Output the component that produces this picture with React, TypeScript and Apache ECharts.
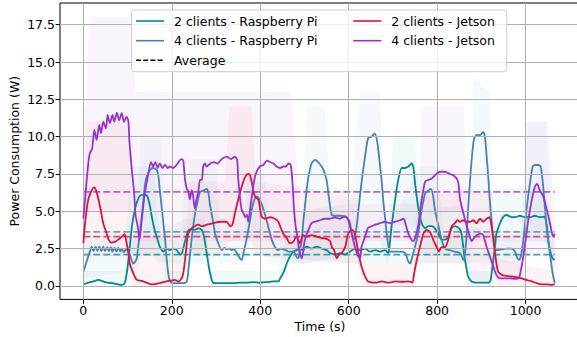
import React, { useEffect, useRef } from "react";
import * as echarts from "echarts";

// ---------- axes ----------
const xTicks = [0, 200, 400, 600, 800, 1000];
const yTicks = [0, 2.5, 5, 7.5, 10, 12.5, 15, 17.5];

// ---------- series meta ----------
const seriesNames = [
  "2 clients - Raspberry Pi",
  "4 clients - Raspberry Pi",
  "2 clients - Jetson",
  "4 clients - Jetson",
];
const seriesColors = ["#008b8b", "#4682b4", "#dc143c", "#9932cc"];
const averages = [2.1, 3.62, 3.3, 6.3];
const avgSpan = [0, 1066];

// ---------- smoothed power (time s, watts) ----------
const rpi2Smooth = [
  [0, 0.1], [11, 0.22], [23, 0.3], [34, 0.4], [45, 0.3], [55, 0.22], [65, 0.18], [75, 0.13], [87, 0.07], [94, 0.2],
  [99, 1.0], [103, 2.0], [107, 3.2], [111, 4.2], [115, 4.9], [120, 5.5], [126, 5.95], [132, 6.1], [140, 6.1], [145, 6.0],
  [151, 5.3], [155, 4.6], [160, 3.9], [166, 3.3], [173, 2.63], [181, 2.3], [188, 2.5], [196, 2.4], [203, 2.5], [211, 2.4],
  [219, 2.1], [223, 2.2], [230, 3.0], [237, 3.7], [245, 3.8], [252, 3.75], [260, 3.86], [268, 3.75], [273, 3.3], [279, 2.2],
  [286, 0.95], [294, 0.2], [309, 0.18], [324, 0.18], [339, 0.18], [354, 0.22], [369, 0.22], [384, 0.25], [400, 0.22], [415, 0.25],
  [430, 0.3], [441, 0.3], [445, 0.5], [452, 0.85], [460, 1.5], [467, 1.96], [475, 2.3], [482, 2.4], [490, 2.5], [497, 2.4],
  [505, 2.63], [516, 2.5], [528, 2.63], [539, 2.5], [550, 2.4], [558, 2.2], [569, 2.1], [580, 2.2], [592, 2.1], [603, 2.3],
  [614, 2.5], [626, 2.4], [637, 2.5], [648, 2.3], [660, 2.4], [671, 2.3], [682, 2.4], [690, 2.2], [693, 2.86], [697, 4.0],
  [705, 5.76], [712, 7.1], [720, 7.9], [727, 7.9], [735, 8.0], [742, 8.2], [746, 8.0], [750, 6.9], [757, 5.3], [765, 4.2],
  [773, 3.86], [780, 4.0], [788, 4.0], [795, 3.86], [803, 3.5], [810, 3.1], [818, 3.1], [825, 3.3], [833, 3.86], [840, 4.0],
  [848, 3.9], [852, 3.75], [855, 3.5], [859, 2.63], [863, 1.74], [867, 1.07], [870, 0.63], [878, 0.3], [889, 0.22], [900, 0.22],
  [916, 0.22], [921, 0.4], [925, 1.3], [931, 2.63], [934, 3.5], [942, 4.2], [950, 4.64], [957, 4.75], [965, 4.64], [976, 4.6],
  [987, 4.7], [999, 4.6], [1010, 4.6], [1021, 4.7], [1032, 4.6], [1042, 4.64], [1048, 4.0], [1051, 3.1], [1055, 2.4], [1061, 1.85],
  [1066, 1.74],
];

const rpi4Smooth = [
  [0, 0.96], [4, 1.3], [11, 1.96], [16, 2.4], [19, 2.63], [23, 2.34], [28, 2.63], [32, 2.34], [36, 2.63], [41, 2.34],
  [45, 2.63], [49, 2.34], [54, 2.6], [58, 2.34], [62, 2.6], [66, 2.3], [70, 2.55], [75, 2.3], [79, 2.55], [84, 2.3],
  [87, 2.5], [92, 2.25], [96, 2.45], [102, 2.3], [105, 2.1], [109, 1.74], [113, 1.5], [117, 1.6], [121, 1.85], [124, 2.63],
  [128, 3.5], [132, 4.64], [136, 5.76], [139, 6.65], [143, 7.3], [151, 7.77], [158, 7.9], [166, 7.77], [170, 7.3], [173, 6.4],
  [177, 5.3], [181, 4.2], [185, 3.1], [188, 1.96], [192, 0.85], [196, 0.3], [203, 0.18], [215, 0.18], [226, 0.18], [234, 0.3],
  [238, 1.2], [243, 2.6], [248, 3.9], [253, 4.9], [258, 5.6], [264, 6.3], [272, 6.4], [279, 6.5], [283, 6.2], [286, 5.5],
  [290, 4.87], [294, 4.2], [298, 3.5], [305, 2.86], [313, 2.4], [319, 2.55], [324, 2.45], [330, 2.5], [335, 2.4], [341, 2.45],
  [347, 2.2], [354, 1.85], [358, 1.74], [362, 2.2], [369, 3.1], [377, 4.4], [384, 5.5], [392, 6.0], [396, 5.9], [403, 5.5],
  [411, 4.75], [418, 4.0], [426, 3.1], [433, 2.63], [441, 2.4], [447, 2.5], [452, 2.45], [458, 2.4], [464, 2.3], [475, 2.3],
  [482, 1.96], [486, 1.85], [490, 2.4], [494, 3.1], [497, 4.2], [501, 5.3], [505, 6.43], [509, 7.3], [516, 8.2], [524, 8.44],
  [531, 8.3], [539, 8.0], [543, 7.77], [550, 7.1], [554, 6.2], [558, 5.3], [562, 4.75], [569, 4.7], [580, 4.7], [592, 4.64],
  [599, 4.5], [603, 4.2], [607, 3.5], [611, 3.1], [614, 3.3], [618, 4.0], [622, 5.1], [629, 6.9], [637, 8.66], [644, 9.9],
  [652, 10.0], [658, 10.2], [663, 9.9], [667, 9.1], [671, 8.0], [675, 6.9], [678, 5.76], [682, 4.64], [686, 3.5], [690, 2.63],
  [693, 2.3], [705, 2.3], [716, 2.3], [727, 2.23], [731, 1.96], [735, 1.63], [739, 1.5], [742, 1.74], [746, 2.2], [750, 2.63],
  [757, 3.5], [765, 5.1], [773, 6.2], [780, 6.4], [786, 6.5], [791, 6.0], [795, 5.1], [803, 4.0], [810, 3.1], [818, 2.5],
  [829, 2.4], [840, 2.3], [852, 2.2], [859, 1.74], [863, 2.2], [867, 3.5], [870, 5.1], [874, 6.9], [878, 8.44], [883, 9.8],
  [889, 10.1], [897, 10.1], [904, 10.3], [908, 10.0], [912, 8.66], [916, 7.1], [919, 5.76], [923, 4.4], [927, 3.3], [931, 2.63],
  [934, 2.4], [946, 2.45], [957, 2.5], [968, 2.5], [976, 2.3], [980, 1.96], [985, 1.74], [989, 1.96], [995, 3.1], [1002, 5.1],
  [1010, 6.9], [1016, 8.0], [1021, 8.1], [1029, 8.1], [1034, 8.0], [1039, 6.9], [1044, 5.1], [1049, 3.5], [1055, 2.2], [1061, 0.85],
  [1066, 0.18],
];

const jet2Smooth = [
  [0, 2.86], [4, 4.2], [11, 5.76], [19, 6.4], [24, 6.6], [30, 6.3], [38, 5.3], [45, 4.2], [53, 3.5], [57, 3.1],
  [64, 2.9], [72, 2.97], [79, 3.1], [87, 3.3], [93, 3.46], [98, 2.86], [102, 2.2], [105, 1.5], [113, 0.85], [121, 0.4],
  [132, 0.33], [143, 0.22], [154, 0.1], [166, 0.15], [177, 0.22], [188, 0.3], [198, 0.35], [207, 0.4], [215, 0.3], [222, 0.5],
  [226, 0.85], [230, 1.74], [234, 2.86], [237, 3.5], [245, 3.86], [252, 4.0], [260, 4.1], [268, 4.0], [279, 4.1], [294, 4.2],
  [309, 4.3], [324, 4.3], [332, 4.0], [337, 4.1], [343, 4.9], [350, 5.76], [358, 6.65], [366, 7.3], [373, 7.5], [377, 7.43],
  [381, 6.9], [384, 6.43], [388, 6.0], [396, 5.76], [399, 5.3], [403, 4.64], [411, 4.5], [422, 4.6], [433, 4.5], [441, 4.3],
  [445, 4.0], [452, 3.5], [460, 3.2], [467, 2.86], [475, 2.97], [482, 3.3], [490, 2.86], [497, 3.4], [505, 3.3], [516, 3.4],
  [528, 3.3], [539, 3.2], [550, 3.15], [558, 3.0], [562, 2.6], [567, 2.4], [573, 1.85], [578, 2.1], [584, 2.2], [592, 2.6],
  [599, 3.5], [607, 3.75], [613, 3.6], [618, 2.86], [622, 2.2], [629, 1.3], [637, 0.63], [644, 0.3], [660, 0.22], [675, 0.3],
  [690, 0.22], [705, 0.3], [720, 0.28], [735, 0.3], [744, 0.22], [748, 0.85], [754, 1.74], [761, 2.6], [769, 3.5], [776, 3.75],
  [784, 3.6], [791, 3.1], [799, 2.6], [804, 2.3], [810, 2.6], [818, 2.6], [825, 3.1], [833, 4.0], [840, 4.2], [846, 4.4],
  [852, 4.3], [859, 4.4], [867, 4.3], [874, 4.3], [882, 4.4], [889, 4.2], [897, 4.5], [904, 4.3], [912, 4.5], [918, 4.6],
  [922, 4.2], [927, 3.1], [931, 2.2], [934, 1.5], [938, 0.96], [946, 0.74], [957, 0.67], [968, 0.63], [980, 0.58], [991, 0.5],
  [1002, 0.4], [1014, 0.3], [1025, 0.18], [1036, 0.1], [1048, 0.1], [1059, 0.07], [1066, 0.1],
];

const jet4Smooth = [
  [0, 4.53], [4, 5.8], [8, 7.2], [12, 8.4], [15, 8.9], [20, 9.2], [25, 10.45], [30, 9.78], [36, 10.78], [40, 10.23],
  [45, 11.0], [51, 10.56], [55, 11.45], [60, 10.9], [66, 11.45], [70, 11.0], [76, 11.6], [81, 11.1], [87, 11.57], [92, 11.0],
  [98, 11.34], [102, 11.0], [104, 9.8], [109, 8.0], [115, 6.2], [118, 4.75], [123, 4.0], [127, 3.1], [132, 4.4], [139, 6.2],
  [147, 7.5], [153, 8.3], [158, 8.0], [163, 8.3], [168, 7.9], [173, 8.2], [179, 7.9], [185, 8.1], [191, 7.9], [196, 8.0],
  [203, 7.9], [211, 8.1], [218, 8.4], [222, 8.5], [226, 8.4], [230, 7.1], [234, 6.5], [237, 6.4], [241, 5.8], [245, 6.4],
  [248, 6.1], [252, 5.2], [256, 5.8], [260, 6.3], [264, 7.1], [268, 7.1], [271, 8.0], [275, 8.2], [279, 8.0], [287, 8.2],
  [294, 8.3], [303, 8.2], [313, 8.5], [324, 8.66], [334, 8.5], [343, 8.66], [348, 8.4], [350, 7.3], [354, 6.0], [358, 5.1],
  [362, 4.9], [366, 4.6], [370, 4.75], [373, 4.3], [377, 5.1], [381, 6.0], [384, 6.65], [388, 7.3], [392, 7.65], [399, 8.0],
  [407, 8.1], [415, 8.4], [422, 8.3], [430, 8.2], [437, 8.0], [445, 7.9], [452, 8.0], [458, 8.0], [464, 8.2], [469, 8.1],
  [473, 6.9], [476, 5.3], [480, 4.0], [485, 3.1], [488, 2.4], [494, 1.85], [501, 3.1], [509, 3.75], [516, 4.2], [524, 4.3],
  [535, 4.4], [546, 4.5], [558, 4.5], [569, 4.6], [580, 4.5], [592, 4.65], [599, 4.4], [607, 3.5], [614, 2.6], [622, 1.96],
  [626, 1.85], [629, 2.6], [637, 3.3], [644, 3.9], [652, 4.0], [660, 4.1], [671, 4.2], [682, 4.3], [693, 4.2], [705, 4.3],
  [716, 4.4], [724, 4.5], [728, 4.2], [735, 3.5], [742, 3.1], [746, 3.0], [750, 3.2], [757, 4.0], [765, 5.76], [773, 7.0],
  [780, 7.1], [788, 7.2], [795, 7.4], [806, 7.65], [818, 7.65], [829, 7.5], [837, 7.4], [844, 7.2], [848, 6.9], [852, 5.76],
  [859, 4.9], [867, 4.0], [874, 3.3], [878, 3.0], [886, 3.3], [897, 3.5], [904, 3.4], [912, 2.6], [919, 2.0], [927, 1.3],
  [934, 0.74], [942, 0.5], [953, 0.5], [965, 0.5], [976, 0.48], [984, 0.5], [991, 1.3], [999, 2.86], [1006, 4.4], [1014, 5.76],
  [1021, 6.65], [1026, 6.83], [1032, 6.4], [1040, 6.0], [1048, 5.1], [1055, 4.2], [1059, 3.6], [1063, 3.3], [1066, 3.5],
];

// ---------- raw-sample envelope (time s, low W, high W) ----------
const rpi2Raw = [
  [0, 0, 1], [95, 0, 1], [105, 2, 8], [160, 2, 8], [170, 1.5, 3.5], [228, 1.5, 4.5], [275, 1.5, 4.5], [290, 0, 1],
  [440, 0, 1], [460, 1.5, 3.5], [690, 1.5, 3.5], [700, 4, 10], [750, 4, 10], [760, 2, 5], [860, 2, 5.5], [870, 0, 1],
  [920, 0, 1], [935, 3, 6.5], [1045, 3, 6.5], [1066, 1, 3],
];
const rpi4Raw = [
  [0, 0.5, 3], [120, 1, 3.5], [130, 2, 10], [175, 2, 10], [190, 0, 1], [230, 0, 1], [240, 2, 8.5], [300, 2, 8.5],
  [310, 1.5, 3.5], [365, 1.5, 3.5], [370, 2, 7.5], [410, 2, 7.5], [420, 1.5, 3.5], [495, 1.5, 3.5], [505, 3, 12],
  [545, 3, 12], [560, 3, 6], [605, 3, 6], [625, 3, 13], [670, 3, 13], [685, 1.5, 3.5], [760, 1.5, 8], [800, 1.5, 8],
  [815, 1.5, 3.5], [875, 1.5, 3.5], [882, 3, 14], [920, 3, 13], [928, 1.5, 3.5], [995, 1.5, 3.5], [1005, 3, 11],
  [1045, 3, 11], [1066, 0, 2],
];
const jet2Raw = [
  [0, 2, 7], [10, 2, 11], [100, 2, 11], [110, 0, 3.5], [220, 0, 3], [230, 2, 7], [320, 2, 7], [330, 3, 12],
  [380, 3, 12], [390, 2, 7], [620, 1.5, 6], [630, 0, 1.5], [745, 0, 1.5], [755, 1.5, 6], [925, 1.5, 6.5], [935, 0, 1.8],
  [1066, 0, 1],
];
const jet4Raw = [
  [0, 4, 12], [8, 5, 12], [12, 5, 18], [110, 5, 18], [118, 3, 13], [470, 3, 13], [490, 1.5, 5], [600, 2, 5.5],
  [630, 3, 5.5], [760, 3, 5.5], [765, 5, 12], [860, 5, 12], [870, 0.3, 4], [990, 0.3, 3], [1000, 2, 11], [1050, 2, 11],
  [1066, 2, 5],
];

const smoothSets = [rpi2Smooth, rpi4Smooth, jet2Smooth, jet4Smooth];
const rawSets = [rpi2Raw, rpi4Raw, jet2Raw, jet4Raw];

const FONT = "DejaVu Sans";

export default function App() {
  const ref = useRef<HTMLDivElement>(null);

  useEffect(() => {
    if (!ref.current) return;
    const chart = echarts.init(ref.current, null, { renderer: "svg" });

    const gridSeries = {
      type: "line",
      data: [],
      silent: true,
      z: 0,
      markLine: {
        silent: true,
        symbol: ["none", "none"],
        label: { show: false },
        lineStyle: { color: "#b0b0b0", width: 1, type: "solid" },
        emphasis: { disabled: true },
        data: [
          ...xTicks.map((v) => ({ xAxis: v })),
          ...yTicks.map((v) => ({ yAxis: v })),
        ],
      },
    };

    const rawSeries = rawSets.map((rows, i) => ({
      type: "custom",
      silent: true,
      z: 1,
      data: rows,
      renderItem: (params: any, api: any) => {
        if (params.dataIndex !== 0) return null;
        const top = rows.map((r) => api.coord([r[0], r[2]]));
        const bottom = rows
          .slice()
          .reverse()
          .map((r) => api.coord([r[0], r[1]]));
        return {
          type: "polygon",
          shape: { points: [...top, ...bottom] },
          style: { fill: seriesColors[i], opacity: 0.05 },
        };
      },
    }));

    const lineSeries = smoothSets.map((d, i) => ({
      name: seriesNames[i],
      type: "line",
      data: d,
      showSymbol: false,
      smooth: 0.25,
      z: 3 + i,
      silent: true,
      lineStyle: { color: seriesColors[i], width: 1.8 },
      itemStyle: { color: seriesColors[i] },
    }));

    const avgSeries = averages.map((a, i) => ({
      type: "line",
      data: avgSpan.map((t) => [t, a]),
      showSymbol: false,
      z: 2,
      silent: true,
      lineStyle: { color: seriesColors[i], width: 1.8, type: [7, 3], opacity: 0.75 },
    }));

    const legendRows = [
      { x: 136, y: 21, color: seriesColors[0], text: seriesNames[0], dash: false },
      { x: 136, y: 40.7, color: seriesColors[1], text: seriesNames[1], dash: false },
      { x: 136, y: 60.3, color: "#000", text: "Average", dash: true },
      { x: 353.3, y: 21, color: seriesColors[2], text: seriesNames[2], dash: false },
      { x: 353.3, y: 40.7, color: seriesColors[3], text: seriesNames[3], dash: false },
    ];

    const legendGraphics: any[] = [
      {
        type: "rect",
        shape: { x: 131.7, y: 10, width: 375, height: 61.7, r: 2.5 },
        style: { fill: "rgba(255,255,255,0.8)", stroke: "#cccccc", lineWidth: 1 },
        z: 100,
        silent: true,
      },
    ];
    legendRows.forEach((r) => {
      legendGraphics.push({
        type: "line",
        shape: { x1: r.x, y1: r.y, x2: r.x + 28, y2: r.y },
        style: {
          stroke: r.color,
          lineWidth: 1.6,
          lineDash: r.dash ? [5, 2.2] : null,
        },
        z: 101,
        silent: true,
      });
      legendGraphics.push({
        type: "text",
        x: r.x + 38,
        y: r.y,
        style: {
          text: r.text,
          fill: "#000",
          font: `12.5px "${FONT}"`,
          verticalAlign: "middle",
          align: "left",
        },
        z: 101,
        silent: true,
      });
    });

    chart.setOption({
      animation: false,
      backgroundColor: "#ffffff",
      grid: {
        left: 60,
        right: -3,
        top: 3,
        bottom: 37.6,
        show: true,
        borderColor: "#000",
        borderWidth: 1,
        backgroundColor: "transparent",
        containLabel: false,
        outerBoundsMode: "none",
      },
      xAxis: {
        type: "value",
        min: -52.7,
        max: 1123,
        name: "Time (s)",
        nameLocation: "middle",
        nameGap: 21,
        nameMoveOverlap: false,
        nameTextStyle: { color: "#000", fontFamily: FONT, fontSize: 12.5 },
        axisLine: { show: false, onZero: false },
        axisTick: { show: true, length: 4.4, customValues: xTicks, lineStyle: { color: "#000", width: 1 } },
        axisLabel: {
          customValues: xTicks,
          color: "#000",
          fontFamily: FONT,
          fontSize: 12.5,
          margin: 5,
          formatter: (v: number) => String(v),
        },
        splitLine: { show: false },
      },
      yAxis: {
        type: "value",
        min: -0.904,
        max: 18.955,
        name: "Power Consumption (W)",
        nameLocation: "middle",
        nameGap: 39,
        nameMoveOverlap: false,
        nameTextStyle: { color: "#000", fontFamily: FONT, fontSize: 12.5 },
        axisLine: { show: false, onZero: false },
        axisTick: { show: true, length: 4.4, customValues: yTicks, lineStyle: { color: "#000", width: 1 } },
        axisLabel: {
          customValues: yTicks,
          color: "#000",
          fontFamily: FONT,
          fontSize: 12.5,
          margin: 5,
          formatter: (v: number) => v.toFixed(1),
        },
        splitLine: { show: false },
      },
      graphic: legendGraphics,
      series: [gridSeries, ...rawSeries, ...avgSeries, ...lineSeries],
    });

    return () => chart.dispose();
  }, []);

  return (
    <div
      ref={ref}
      style={{ position: "fixed", left: 0, top: 0, width: 577, height: 337, background: "#fff" }}
    />
  );
}
